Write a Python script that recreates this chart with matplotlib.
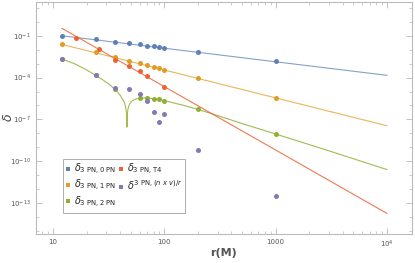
import matplotlib
matplotlib.use("Agg")
import matplotlib.pyplot as plt
from matplotlib.lines import Line2D
from matplotlib.ticker import FixedLocator, FixedFormatter, LogLocator, NullFormatter

plt.rcParams["mathtext.fontset"] = "dejavusans"

# sample radii (M)
r_pts = [12, 24, 36, 48, 60, 70, 80, 90, 100, 200, 1000]
d_0pn = [1.0e-1, 5.8e-2, 3.7e-2, 3.0e-2, 2.4e-2, 2.0e-2, 1.7e-2, 1.55e-2, 1.4e-2, 7.1e-3, 1.45e-3]
d_1pn = [2.4e-2, 6.5e-3, 2.8e-3, 1.6e-3, 1.05e-3, 7.6e-4, 5.6e-4, 4.6e-4, 3.6e-4, 8.7e-5, 3.4e-6]
d_nxv = [2.2e-3, 1.5e-4, 1.85e-5, 1.5e-5, 6.6e-6, 2.2e-6, 3.4e-7, 6.5e-8, 2.5e-7, 6.3e-10, 3.2e-13]

r_t4 = [16, 26, 36, 48, 60, 70, 100]
d_t4 = [6.5e-2, 1.1e-2, 1.8e-3, 6.5e-4, 2.8e-4, 1.3e-4, 2.1e-5]

r_2pn = [12, 24, 36, 60, 70, 80, 90, 100, 200, 1000]
d_2pn = [2.2e-3, 1.45e-4, 1.4e-5, 3.2e-6, 3.5e-6, 3.0e-6, 2.75e-6, 2.2e-6, 5.2e-7, 8.9e-9]

# fitted curves
fit_r = [12, 1e4]
fit_0pn = [1.0e-1, 1.45e-4]
fit_1pn = [2.4e-2, 3.5e-8]
fit_t4 = [3.4e-1, 1.8e-14]

fit2_r = [12, 16, 20, 24, 28, 32, 36, 40, 43, 44, 45, 45.5, 45.8, 46, 46.2, 46.5, 47, 48,
          50, 52, 56, 60, 65, 70, 80, 90, 100, 150, 200, 300, 500, 1000, 3000, 10000]
fit_2pn = [2.2e-3, 8.9e-4, 3.5e-4, 1.45e-4, 6.8e-5, 3.2e-5, 1.4e-5, 5.4e-6, 2.1e-6, 1.3e-6,
           6.0e-7, 2.9e-7, 1.2e-7, 2.8e-8, 1.15e-7, 2.8e-7, 5.5e-7, 1.0e-6,
           1.8e-6, 2.3e-6, 3.0e-6, 3.2e-6, 3.5e-6, 3.5e-6, 3.0e-6, 2.75e-6, 2.2e-6, 1.0e-6,
           5.2e-7, 1.9e-7, 5.0e-8, 8.9e-9, 5.6e-10, 2.5e-11]

c_blue = "#5E81B5"
c_orange = "#E19C24"
c_green = "#8FB032"
c_red = "#EB6235"
c_purple = "#8778B3"

fig = plt.figure(figsize=(4.15, 2.63), dpi=100)
ax = fig.add_axes([0.0867, 0.110, 0.906, 0.882])
ax.set_xscale("log")
ax.set_yscale("log")

lw = 0.8
ax.plot(fit_r, fit_0pn, color=c_blue, lw=lw, alpha=0.75)
ax.plot(fit_r, fit_1pn, color=c_orange, lw=lw, alpha=0.75)
ax.plot(fit2_r, fit_2pn, color=c_green, lw=lw, alpha=0.85)
ax.plot(fit_r, fit_t4, color=c_red, lw=lw, alpha=0.85)

ms = 3.6
ax.plot(r_pts, d_0pn, "o", color=c_blue, ms=ms, mew=0)
ax.plot(r_pts, d_1pn, "o", color=c_orange, ms=ms, mew=0)
ax.plot(r_2pn, d_2pn, "o", color=c_green, ms=ms, mew=0)
ax.plot(r_t4, d_t4, "o", color=c_red, ms=ms, mew=0)
ax.plot(r_pts, d_nxv, "o", color=c_purple, ms=ms, mew=0)

ax.set_xlim(7.0, 16800)
ax.set_ylim(5.9e-16, 26)

# ticks
ax.xaxis.set_major_locator(FixedLocator([10, 100, 1000, 1e4]))
ax.xaxis.set_major_formatter(FixedFormatter(["10", "100", "1000", r"$10^4$"]))
ax.xaxis.set_minor_locator(LogLocator(base=10, subs=range(2, 10), numticks=20))
ax.xaxis.set_minor_formatter(NullFormatter())

yt = [1e-1, 1e-4, 1e-7, 1e-10, 1e-13]
ax.yaxis.set_major_locator(FixedLocator(yt))
ax.yaxis.set_major_formatter(FixedFormatter([r"$10^{-1}$", r"$10^{-4}$", r"$10^{-7}$",
                                             r"$10^{-10}$", r"$10^{-13}$"]))
ax.yaxis.set_minor_locator(FixedLocator([10.0 ** k for k in range(-15, 2)]))
ax.yaxis.set_minor_formatter(NullFormatter())

ax.tick_params(which="both", direction="in", top=True, right=True, colors="#b8b8b8",
               labelcolor="#555555", labelsize=5)
ax.tick_params(which="major", length=4, width=0.6)
ax.tick_params(which="minor", length=2, width=0.5)
for spine in ax.spines.values():
    spine.set_color("#bbbbbb")
    spine.set_linewidth(0.8)

# axis labels placed by hand so they stay inside the small canvas
fig.text(223 / 415, 1 - 253 / 263, "r(M)", fontsize=8, color="#555555", fontweight="bold",
         ha="center", va="center")
fig.text(8 / 415, 1 - 117 / 263, r"$\delta$", fontsize=9, color="#444444",
         rotation=90, ha="center", va="center")

labels = [
    r"$\delta_{3\ \mathrm{PN},0\ \mathrm{PN}}$",
    r"$\delta_{3\ \mathrm{PN},1\ \mathrm{PN}}$",
    r"$\delta_{3\ \mathrm{PN},2\ \mathrm{PN}}$",
    r"$\delta_{3\ \mathrm{PN},\mathrm{T4}}$",
    r"$\delta^{3\ \mathrm{PN},(n\ x\ v)/r}$",
]
colors = [c_blue, c_orange, c_green, c_red, c_purple]
handles = [Line2D([], [], ls="", marker="s", ms=2.5, color=c, mew=0) for c in colors]
leg = ax.legend(handles, labels, ncol=2, loc="upper left", bbox_to_anchor=(0.072, 0.323),
                fontsize=7, frameon=True, fancybox=False, edgecolor="#999999",
                handlelength=0.5, handletextpad=0.3, columnspacing=0.3,
                labelspacing=0.12, borderpad=0.3, borderaxespad=0)
leg.get_frame().set_linewidth(0.7)
for t in leg.get_texts():
    t.set_color("#222222")

fig.savefig("out.png", dpi=100, facecolor="white")
plt.close(fig)
